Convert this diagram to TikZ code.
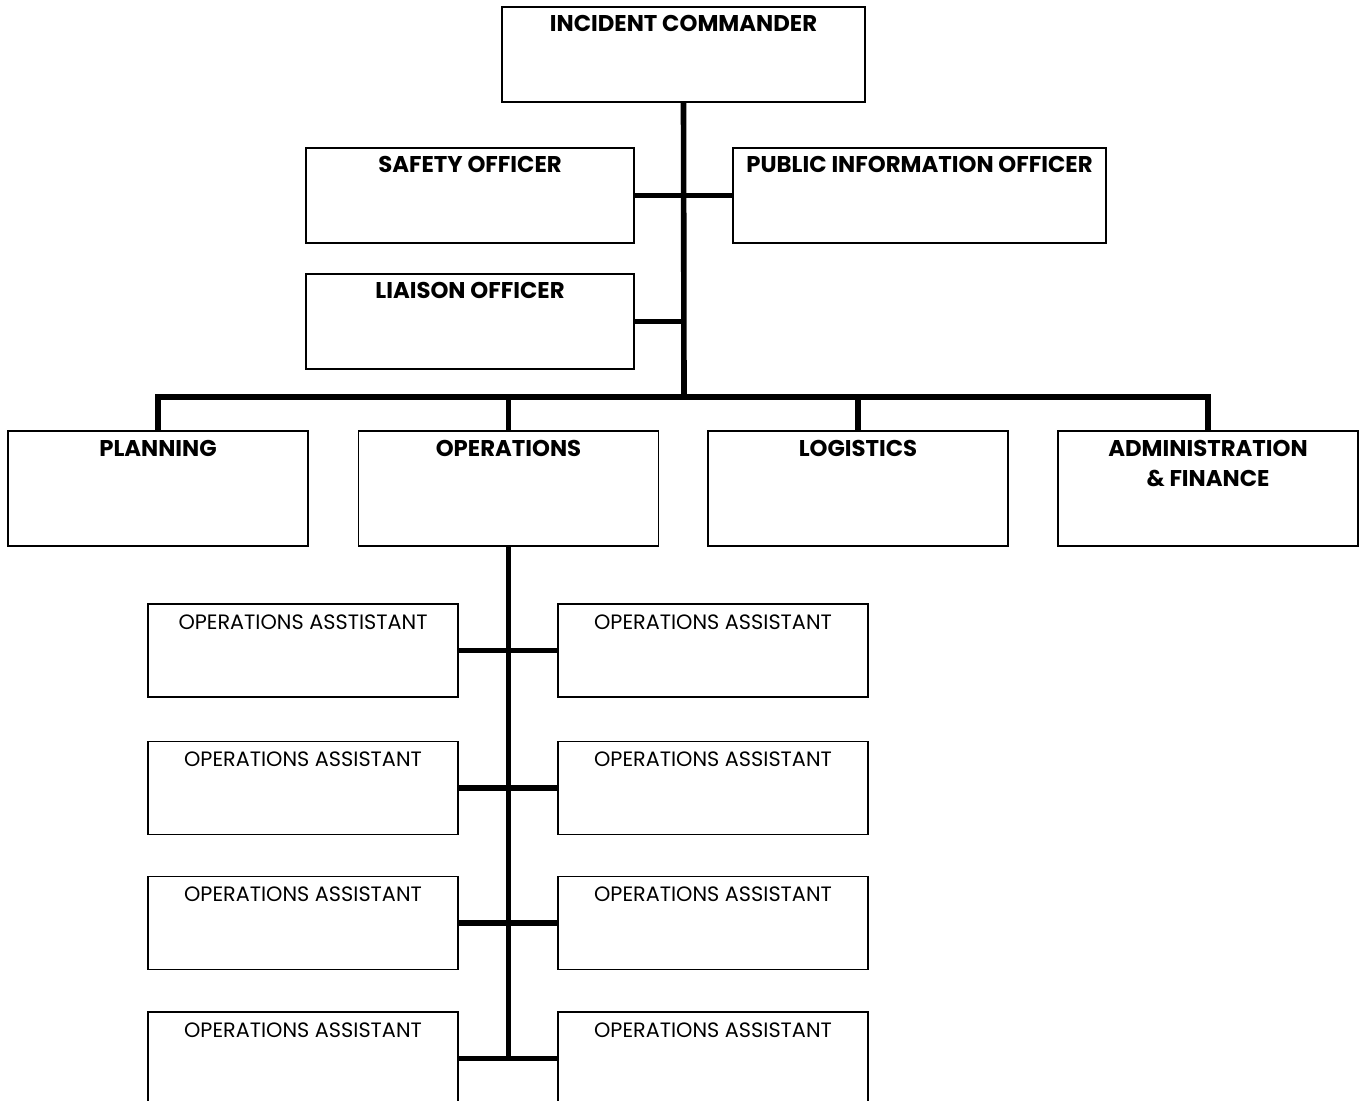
\documentclass[tikz,border=0pt]{standalone}
\usepackage{fontspec}
\setmainfont{Poppins}
\usepackage{tikz}
\usetikzlibrary{calc, positioning}

\begin{document}
\begin{tikzpicture}[x=0.5pt, y=-0.5pt]
		\tikzstyle{box} = [draw=black, rectangle, line width=0.75pt, inner sep=0pt, align=center]
		\tikzstyle{officer} = [box, text height=12.5pt, text depth=35pt, font=\bfseries\fontsize{11.4}{15}\selectfont]
		\tikzstyle{section} = [box, minimum width=150pt, text height=12.5pt, text depth=45pt, font=\bfseries\fontsize{11.4}{15}\selectfont]
		\tikzstyle{assist} = [box, minimum width=155pt, text height=12.5pt, text depth=34pt, font=\fontsize{10.4}{12}\selectfont]
		\tikzstyle{line} = [line width=2.8pt]

		\useasboundingbox (0, 0) rectangle (1363, 1101);
		\clip (0, 0) rectangle (1363, 1101);

		\node[officer, minimum width=181.5pt]	at (683.5, 54.5)	(ic)	{INCIDENT COMMANDER};
		\node[officer, minimum width=164pt]	at (470, 195.5)		(saf)	{SAFETY OFFICER};
		\node[officer, minimum width=186.5pt]	at (919.5, 195.5)	(pio)	{PUBLIC INFORMATION OFFICER};
		\node[officer, minimum width=164pt]	at (470, 321.5)		(lia)	{LIAISON OFFICER};

		\node[section]	at (158, 488.5)		(plan)	{PLANNING};
		\node[section]	at (508.5, 488.5)	(ops)	{OPERATIONS};
		\node[section]	at (858, 488.5)		(log)	{LOGISTICS};
		\node[section, text height=27.5pt, text depth=30pt]	at (1208, 488.5)	(adm)	{ADMINISTRATION\\\& FINANCE};

		\node[assist]	at (303, 650.5)		(al1)	{OPERATIONS ASSTISTANT};
		\node[assist]	at (713, 650.5)		(ar1)	{OPERATIONS ASSISTANT};
		\node[assist]	at (303, 788)		(al2)	{OPERATIONS ASSISTANT};
		\node[assist]	at (713, 788)		(ar2)	{OPERATIONS ASSISTANT};
		\node[assist]	at (303, 923)		(al3)	{OPERATIONS ASSISTANT};
		\node[assist]	at (713, 923)		(ar3)	{OPERATIONS ASSISTANT};
		\node[assist]	at (303, 1058.5)	(al4)	{OPERATIONS ASSISTANT};
		\node[assist]	at (713, 1058.5)	(ar4)	{OPERATIONS ASSISTANT};

		\coordinate (bar) at (684, 397);

		\draw [line] (ic.south) -- (bar);
		\draw [line] (saf.east) -- (pio.west);
		\draw [line] (lia.east) -- (lia.east -| bar);
		\draw [line] (plan.north) |- (bar) -| (adm.north);
		\draw [line] (ops.north) |- (bar);
		\draw [line] (log.north) |- (bar);

		\draw [line] (ops.south) -- (ops.south |- al4.east);
		\draw [line] (al1.east) -- (ar1.west);
		\draw [line] (al2.east) -- (ar2.west);
		\draw [line] (al3.east) -- (ar3.west);
		\draw [line] (al4.east) -- (ar4.west);
	\end{tikzpicture}
\end{document}
